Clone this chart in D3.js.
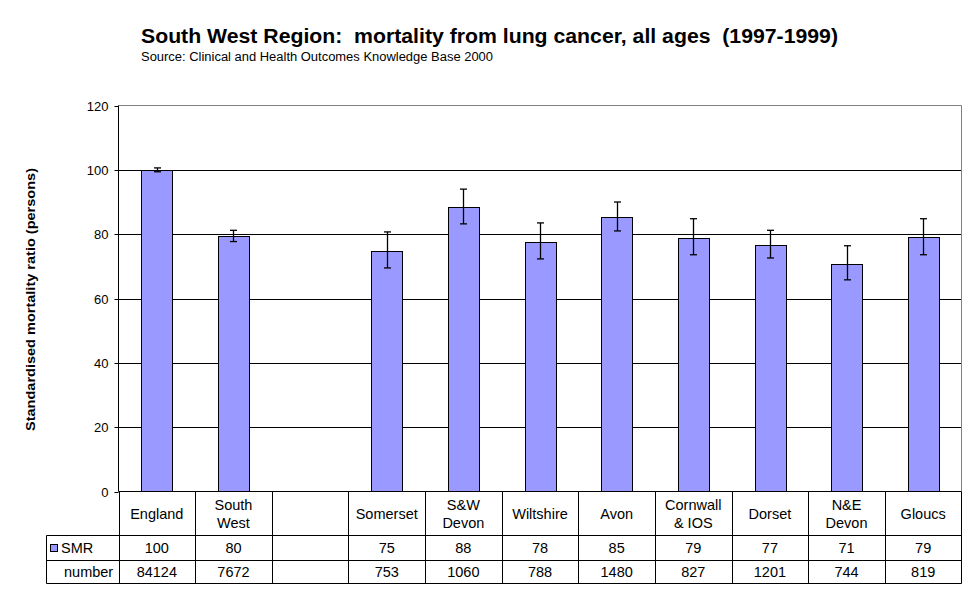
<!DOCTYPE html>
<html>
<head>
<meta charset="utf-8">
<script src="https://cdn.jsdelivr.net/npm/d3@7"></script>
<style>
  html, body { margin: 0; padding: 0; background: #fff; }
  svg { display: block; font-family: "Liberation Sans", Arial, sans-serif; }
</style>
</head>
<body>
<svg id="chart" width="977" height="600"></svg>
<script>
// ---- data ----
const categories = ["England", "South\nWest", "", "Somerset", "S&W\nDevon", "Wiltshire", "Avon", "Cornwall\n& IOS", "Dorset", "N&E\nDevon", "Gloucs"];
const smrValues = [100, 79.5, null, 74.8, 88.5, 77.6, 85.4, 78.9, 76.7, 70.8, 79.2];
const ciLower   = [99.4, 77.7, null, 69.5, 83.2, 72.3, 81.0, 73.6, 72.6, 65.8, 73.6];
const ciUpper   = [100.6, 81.2, null, 80.7, 94.0, 83.5, 90.0, 84.8, 81.2, 76.4, 84.8];
const smrLabels = ["100", "80", "", "75", "88", "78", "85", "79", "77", "71", "79"];
const numberLabels = ["84124", "7672", "", "753", "1060", "788", "1480", "827", "1201", "744", "819"];
const yTicks = [0, 20, 40, 60, 80, 100, 120];
const seriesName = "SMR";
const rowName2 = "number";
const titleText = "South West Region:  mortality from lung cancer, all ages  (1997-1999)";
const subtitleText = "Source: Clinical and Health Outcomes Knowledge Base 2000";
const yTitle = "Standardised mortality ratio (persons)";

(function () {
// ---- layout ----
const svg = d3.select("#chart");
const pLeft = 118.5, pRight = 961.5, pTop = 105.5, pBottom = 491.5;
const tableLeft = 46.5;
const rowY = [491.5, 535.5, 560.5, 583.5];
const barColor = "#9999ff";
const font = '"Liberation Sans", Arial, sans-serif';

const idx = categories.map((d, i) => i);
const x = d3.scaleBand().domain(idx).range([pLeft, pRight]).paddingInner(0).paddingOuter(0);
const y = d3.scaleLinear().domain([0, 120]).range([pBottom, pTop]);
const barW = x.bandwidth() / 2.5;

// title
svg.append("text").attr("x", 141).attr("y", 42.5)
  .attr("font-size", "20px").attr("font-weight", "bold")
  .attr("textLength", 697).attr("lengthAdjust", "spacingAndGlyphs")
  .style("white-space", "pre").attr("xml:space", "preserve")
  .text(titleText);
svg.append("text").attr("x", 141).attr("y", 61)
  .attr("font-size", "12px")
  .attr("textLength", 352).attr("lengthAdjust", "spacingAndGlyphs")
  .text(subtitleText);

// gridlines
svg.append("g").selectAll("line").data(yTicks.filter(t => t > 0 && t < 120)).join("line")
  .attr("x1", pLeft).attr("x2", pRight)
  .attr("y1", d => Math.round(y(d)) + 0.5).attr("y2", d => Math.round(y(d)) + 0.5)
  .attr("stroke", "#000").attr("stroke-width", 1);

// plot border (top, right) gray
svg.append("path")
  .attr("d", `M${pLeft},${pTop}H${pRight}V${pBottom}`)
  .attr("fill", "none").attr("stroke", "#808080").attr("stroke-width", 1);

// y axis
const yAxis = d3.axisLeft(y).tickValues(yTicks).tickSize(4).tickPadding(6).tickFormat(d3.format("d"));
const ga = svg.append("g").attr("transform", `translate(${pLeft},0)`).call(yAxis);
ga.select(".domain").attr("stroke", "#000").attr("d", `M0,${pTop}V${pBottom}`);
ga.selectAll(".tick line").attr("stroke", "#000");
ga.selectAll(".tick").attr("transform", d => `translate(0,${Math.round(y(d)) + 0.5})`);
ga.selectAll(".tick text").attr("font-size", "13px").attr("font-family", font).attr("fill", "#000");

// y title
svg.append("text")
  .attr("transform", `translate(35,${(pTop + pBottom) / 2 + 1}) rotate(-90)`)
  .attr("text-anchor", "middle")
  .attr("font-size", "13.5px").attr("font-weight", "bold")
  .attr("textLength", 263).attr("lengthAdjust", "spacingAndGlyphs")
  .text(yTitle);

// bars
const barData = idx.filter(i => smrValues[i] != null);
svg.append("g").selectAll("rect").data(barData).join("rect")
  .attr("x", i => Math.round(x(i) + (x.bandwidth() - barW) / 2) + 0.5)
  .attr("width", Math.round(barW))
  .attr("y", i => Math.round(y(smrValues[i])) + 0.5)
  .attr("height", i => pBottom - (Math.round(y(smrValues[i])) + 0.5))
  .attr("fill", barColor).attr("stroke", "#000").attr("stroke-width", 1);

// error bars
const eb = svg.append("g").attr("stroke", "#000").attr("stroke-width", 1.3);
barData.forEach(i => {
  const cx = Math.round(x(i) + x.bandwidth() / 2) + 0.5;
  const y1 = y(ciUpper[i]), y2 = y(ciLower[i]);
  eb.append("line").attr("x1", cx).attr("x2", cx).attr("y1", y1).attr("y2", y2);
  eb.append("line").attr("x1", cx - 3.5).attr("x2", cx + 3.5).attr("y1", y1).attr("y2", y1);
  eb.append("line").attr("x1", cx - 3.5).attr("x2", cx + 3.5).attr("y1", y2).attr("y2", y2);
});

// x axis baseline
svg.append("line").attr("x1", pLeft).attr("x2", pRight).attr("y1", pBottom).attr("y2", pBottom)
  .attr("stroke", "#000");

// data table
const tg = svg.append("g").attr("stroke", "#000").attr("stroke-width", 1);
[rowY[1], rowY[2], rowY[3]].forEach(yy => {
  tg.append("line").attr("x1", tableLeft).attr("x2", pRight).attr("y1", yy).attr("y2", yy);
});
const bounds = idx.map(i => Math.round(x(i)) + 0.5).concat([pRight]);
bounds.forEach(bx => {
  tg.append("line").attr("x1", bx).attr("x2", bx).attr("y1", rowY[0]).attr("y2", rowY[3]);
});
tg.append("line").attr("x1", tableLeft).attr("x2", tableLeft).attr("y1", rowY[1]).attr("y2", rowY[3]);

// header labels
const hdr = svg.append("g").attr("font-size", "14.5px").attr("text-anchor", "middle");
idx.forEach(i => {
  const lines = categories[i].split("\n");
  const cx = x(i) + x.bandwidth() / 2;
  const cy = (rowY[0] + rowY[1]) / 2;
  const lh = 18;
  lines.forEach((ln, k) => {
    hdr.append("text").attr("x", cx)
      .attr("y", cy + (k - (lines.length - 1) / 2) * lh + 5)
      .text(ln);
  });
});

// rows
const rows = svg.append("g").attr("font-size", "14.5px").attr("text-anchor", "middle");
idx.forEach(i => {
  const cx = x(i) + x.bandwidth() / 2;
  rows.append("text").attr("x", cx).attr("y", (rowY[1] + rowY[2]) / 2 + 5).text(smrLabels[i]);
  rows.append("text").attr("x", cx).attr("y", (rowY[2] + rowY[3]) / 2 + 5).text(numberLabels[i]);
});

// legend key + row names
svg.append("rect").attr("x", 50.5).attr("y", 544.5).attr("width", 7).attr("height", 7)
  .attr("fill", barColor).attr("stroke", "#000").attr("stroke-width", 1);
svg.append("text").attr("x", 61).attr("y", (rowY[1] + rowY[2]) / 2 + 5)
  .attr("font-size", "14.5px").text(seriesName);
svg.append("text").attr("x", 64).attr("y", (rowY[2] + rowY[3]) / 2 + 5)
  .attr("font-size", "14.5px").text(rowName2);
})();
</script>
</body>
</html>
